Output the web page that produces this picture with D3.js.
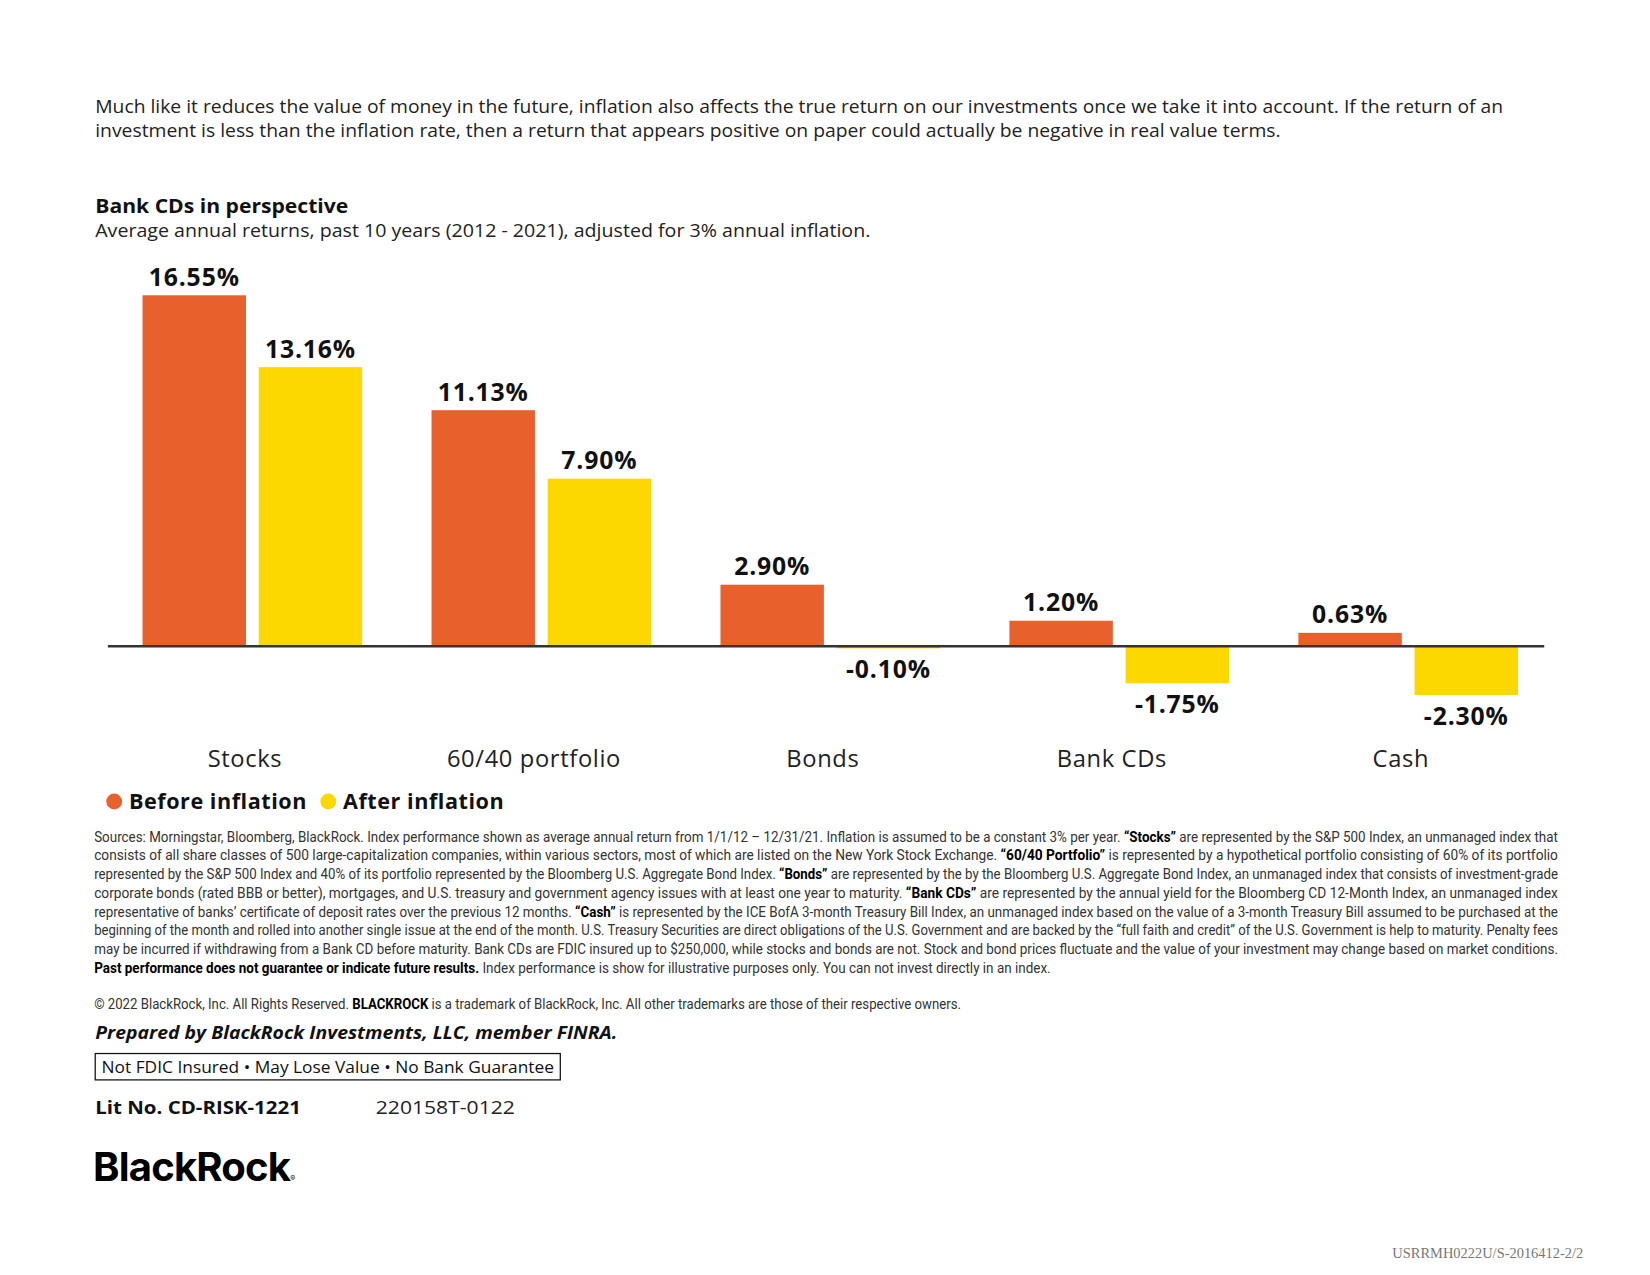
<!DOCTYPE html>
<html><head><meta charset="utf-8">
<script src="https://cdn.jsdelivr.net/npm/d3@7"></script>
<style>body{margin:0;background:#fff}</style>
</head><body>
<div id="chart"></div>
<script>
var categories = ["Stocks", "60/40 portfolio", "Bonds", "Bank CDs", "Cash"]
var beforeInflation = [16.55, 11.13, 2.90, 1.20, 0.63]
var afterInflation = [13.16, 7.90, -0.10, -1.75, -2.30]
var seriesNames = ["Before inflation", "After inflation"]
var colors = ["#E8602C", "#FDD700"]

var introLines = [
  "Much like it reduces the value of money in the future, inflation also affects the true return on our investments once we take it into account. If the return of an",
  "investment is less than the inflation rate, then a return that appears positive on paper could actually be negative in real value terms."
]
// footnote lines, [text, bold] pieces
var notes = [
  [["Sources: Morningstar, Bloomberg, BlackRock. Index performance shown as average annual return from 1/1/12 – 12/31/21. Inflation is assumed to be a constant 3% per year. ",0],["“Stocks”",1],[" are represented by the S&P 500 Index, an unmanaged index that",0]],
  [["consists of all share classes of 500 large-capitalization companies, within various sectors, most of which are listed on the New York Stock Exchange. ",0],["“60/40 Portfolio”",1],[" is represented by a hypothetical portfolio consisting of 60% of its portfolio",0]],
  [["represented by the S&P 500 Index and 40% of its portfolio represented by the Bloomberg U.S. Aggregate Bond Index. ",0],["“Bonds”",1],[" are represented by the by the Bloomberg U.S. Aggregate Bond Index, an unmanaged index that consists of investment-grade",0]],
  [["corporate bonds (rated BBB or better), mortgages, and U.S. treasury and government agency issues with at least one year to maturity. ",0],["“Bank CDs”",1],[" are represented by the annual yield for the Bloomberg CD 12-Month Index, an unmanaged index",0]],
  [["representative of banks’ certificate of deposit rates over the previous 12 months. ",0],["“Cash”",1],[" is represented by the ICE BofA 3-month Treasury Bill Index, an unmanaged index based on the value of a 3-month Treasury Bill assumed to be purchased at the",0]],
  [["beginning of the month and rolled into another single issue at the end of the month. U.S. Treasury Securities are direct obligations of the U.S. Government and are backed by the “full faith and credit” of the U.S. Government is help to maturity. Penalty fees",0]],
  [["may be incurred if withdrawing from a Bank CD before maturity. Bank CDs are FDIC insured up to $250,000, while stocks and bonds are not. Stock and bond prices fluctuate and the value of your investment may change based on market conditions.",0]],
  [["Past performance does not guarantee or indicate future results.",1],[" Index performance is show for illustrative purposes only. You can not invest directly in an index.",0]]
]
var noteWidths = [1388, 1388, 1388, 1388, 1388, 1388, 1388, 907]

var W = 1564, H = 1209
var svg = d3.select("#chart").append("svg")
  .attr("width", 1650).attr("height", 1275)
  .attr("viewBox", "0 0 " + W + " " + H)
  .style("font-family", "'Open Sans', Lato, sans-serif")

svg.selectAll(".intro").data(introLines).enter().append("text")
  .attr("x", 90).attr("y", function(d, i){ return 107 + i * 23 })
  .attr("font-size", 17.5).attr("fill", "#222")
  .attr("textLength", function(d, i){ return i == 0 ? 1335 : 1124 }).attr("lengthAdjust", "spacingAndGlyphs")
  .text(function(d){ return d })

svg.append("text").attr("x", 90).attr("y", 202).attr("font-size", 19)
  .attr("font-weight", "bold").attr("fill", "#111")
  .attr("textLength", 240).attr("lengthAdjust", "spacingAndGlyphs").text("Bank CDs in perspective")
svg.append("text").attr("x", 90).attr("y", 225).attr("font-size", 17.5).attr("fill", "#222")
  .attr("textLength", 735).attr("lengthAdjust", "spacingAndGlyphs")
  .text("Average annual returns, past 10 years (2012 - 2021), adjusted for 3% annual inflation.")

var x0 = d3.scaleBand().domain(categories).range([102, 1472]).paddingInner(0.24).paddingOuter(0.12)
var x1 = d3.scaleBand().domain(seriesNames).range([0, x0.bandwidth()]).paddingInner(0.11)
var y = d3.scaleLinear().domain([-2.3, 16.55]).range([659, 280])

var rows = categories.map(function(c, i){
  return [{cat: c, s: seriesNames[0], v: beforeInflation[i], k: 0},
          {cat: c, s: seriesNames[1], v: afterInflation[i], k: 1}]
})
var g = svg.selectAll(".grp").data(rows).enter().append("g")
  .attr("transform", function(d){ return "translate(" + x0(d[0].cat) + ",0)" })
g.selectAll("rect").data(function(d){ return d }).enter().append("rect")
  .attr("x", function(d){ return x1(d.s) }).attr("width", x1.bandwidth())
  .attr("y", function(d){ return y(Math.max(0, d.v)) })
  .attr("height", function(d){ return Math.abs(y(d.v) - y(0)) })
  .attr("fill", function(d){ return colors[d.k] })
g.selectAll(".val").data(function(d){ return d }).enter().append("text")
  .attr("x", function(d){ return x1(d.s) + x1.bandwidth() / 2 })
  .attr("y", function(d){ return d.v >= 0 ? y(d.v) - 9 : y(d.v) + 28 })
  .attr("text-anchor", "middle").attr("font-size", 23.5).attr("font-weight", "bold").attr("fill", "#111")
  .attr("letter-spacing", 0.8)
  .text(function(d){ return d.v.toFixed(2) + "%" })

svg.append("line").attr("x1", 102).attr("x2", 1464).attr("y1", y(0)).attr("y2", y(0))
  .attr("stroke", "#333").attr("stroke-width", 2.5)

var xAxis = svg.append("g").attr("transform", "translate(-7," + 708 + ")")
  .call(d3.axisBottom(x0).tickSize(0))
xAxis.select(".domain").remove()
xAxis.selectAll("text").attr("font-size", 22.5).attr("fill", "#222").attr("letter-spacing", 0.6)
  .attr("font-family", "'Open Sans', Lato, sans-serif")

var leg = svg.selectAll(".leg").data(seriesNames).enter().append("g")
  .attr("transform", function(d, i){ return "translate(" + (108 + i * 203) + ",760)" })
leg.append("circle").attr("r", 7.5).attr("fill", function(d, i){ return colors[i] })
leg.append("text").attr("x", 14).attr("y", 7).attr("font-size", 20.5).attr("font-weight", "bold")
  .attr("letter-spacing", 0.5).attr("fill", "#111").text(function(d){ return d })

var nt = svg.selectAll(".note").data(notes).enter().append("text")
  .attr("x", 89).attr("y", function(d, i){ return 798 + i * 17.8 })
  .attr("font-family", "'Liberation Sans Narrow', 'Roboto', sans-serif").attr("font-size", 13.6)
  .attr("fill", "#333")
  .attr("textLength", function(d, i){ return noteWidths[i] })
  .attr("lengthAdjust", "spacingAndGlyphs")
nt.selectAll("tspan").data(function(d){ return d }).enter().append("tspan")
  .attr("font-weight", function(d){ return d[1] ? "bold" : null })
  .attr("fill", function(d){ return d[1] ? "#000" : null })
  .text(function(d){ return d[0] })

var cp = svg.append("text").attr("x", 89).attr("y", 957)
  .attr("font-family", "'Liberation Sans Narrow', 'Roboto', sans-serif").attr("font-size", 13.6).attr("fill", "#333")
  .attr("textLength", 822).attr("lengthAdjust", "spacingAndGlyphs")
cp.append("tspan").text("© 2022 BlackRock, Inc. All Rights Reserved. ")
cp.append("tspan").attr("font-weight", "bold").attr("fill", "#000").text("BLACKROCK")
cp.append("tspan").text(" is a trademark of BlackRock, Inc. All other trademarks are those of their respective owners.")

svg.append("text").attr("x", 90).attr("y", 985).attr("font-size", 17.5).attr("font-weight", "bold")
  .attr("font-style", "italic").attr("fill", "#111")
  .attr("textLength", 495).attr("lengthAdjust", "spacingAndGlyphs").text("Prepared by BlackRock Investments, LLC, member FINRA.")
svg.append("rect").attr("x", 90).attr("y", 999).attr("width", 441).attr("height", 25)
  .attr("fill", "none").attr("stroke", "#111").attr("stroke-width", 1.2)
svg.append("text").attr("x", 96).attr("y", 1017).attr("font-size", 16).attr("fill", "#111")
  .attr("textLength", 429).attr("lengthAdjust", "spacingAndGlyphs")
  .text("Not FDIC Insured • May Lose Value • No Bank Guarantee")
svg.append("text").attr("x", 90).attr("y", 1056).attr("font-size", 17.5).attr("font-weight", "bold")
  .attr("fill", "#111").attr("textLength", 195).attr("lengthAdjust", "spacingAndGlyphs").text("Lit No. CD-RISK-1221")
svg.append("text").attr("x", 356).attr("y", 1056).attr("font-size", 17.5).attr("fill", "#222")
  .attr("textLength", 132).attr("lengthAdjust", "spacingAndGlyphs").text("220158T-0122")
var logo = svg.append("text").attr("x", 88).attr("y", 1120).attr("font-size", 38).attr("font-weight", "bold")
  .attr("fill", "#000").attr("font-family", "Inter, 'Open Sans', sans-serif")
logo.append("tspan").attr("letter-spacing", -0.8).text("BlackRock")
logo.append("tspan").attr("font-size", 7).attr("font-weight", "normal").text("®")
svg.append("text").attr("x", 1320).attr("y", 1193).attr("font-size", 13)
  .attr("font-family", "'Liberation Serif', serif").attr("fill", "#777")
  .attr("textLength", 181).attr("lengthAdjust", "spacingAndGlyphs").text("USRRMH0222U/S-2016412-2/2")
</script>
</body></html>
